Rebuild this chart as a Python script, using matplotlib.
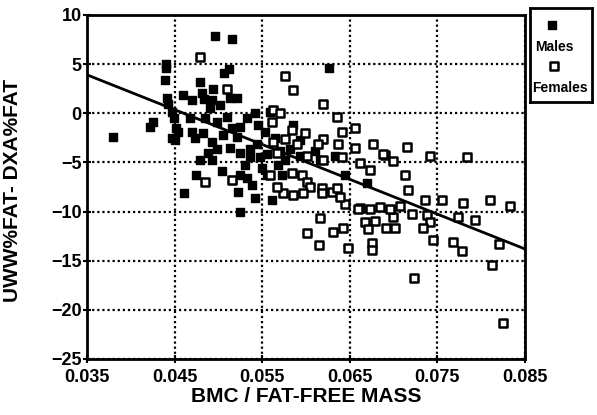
import numpy as np
from matplotlib import pyplot as plt

# BMC / fat-free mass vs. UWW%fat - DXA%fat
males_x = [0.0379, 0.0422, 0.0425, 0.0440, 0.0440, 0.0439, 0.0441, 0.0442, 0.0447, 0.0449,
           0.0452, 0.0447, 0.0450, 0.0454, 0.0460, 0.0470, 0.0479, 0.0481, 0.0483, 0.0493,
           0.0494, 0.0496, 0.0516, 0.0506, 0.0512, 0.0513, 0.0521, 0.0470, 0.0473, 0.0482,
           0.0493, 0.0498, 0.0513, 0.0521, 0.0525, 0.0533, 0.0510, 0.0498, 0.0525, 0.0536,
           0.0544, 0.0556, 0.0548, 0.0536, 0.0559, 0.0542, 0.0493, 0.0504, 0.0516, 0.0525,
           0.0533, 0.0538, 0.0522, 0.0542, 0.0556, 0.0461, 0.0525, 0.0561, 0.0485, 0.0490,
           0.0502, 0.0468, 0.0545, 0.0553, 0.0565, 0.0570, 0.0576, 0.0582, 0.0593, 0.0530,
           0.0550, 0.0568, 0.0626, 0.0593, 0.0610, 0.0616, 0.0633, 0.0573, 0.0585, 0.0516,
           0.0505, 0.0488, 0.0479, 0.0474, 0.0670, 0.0645]
males_y = [-2.4, -1.4, -0.9, 5.0, 4.6, 3.4, 1.5, 0.9, 0.1, -0.5,
           -1.5, -2.5, -2.7, -1.9, 1.9, 1.3, 3.2, 2.1, 1.4, 1.3,
           2.5, 7.9, 7.6, 4.1, 4.5, 1.6, 1.6, -1.9, -2.5, -2.0,
           -2.9, -3.6, -3.5, -2.4, -1.4, -0.5, -0.4, -0.9, -4.0, -3.6,
           -3.1, -4.1, -4.5, -4.5, 0.1, 0.0, -4.8, -5.9, -6.8, -6.3,
           -6.6, -7.3, -8.0, -8.6, -6.3, -8.1, -10.0, -8.8, -0.5, 0.5,
           0.8, -0.5, -1.2, -1.9, -2.5, -3.8, -4.8, -3.6, -4.3, -5.3,
           -5.6, -5.3, 4.6, -2.7, -3.8, -4.8, -4.3, -6.3, -1.2, -1.5,
           -2.2, -4.0, -4.8, -6.3, -7.1, -6.3]

females_x = [0.0479, 0.0510, 0.0485, 0.0562, 0.0576, 0.0585, 0.0619, 0.0635, 0.0641, 0.0561,
             0.0584, 0.0576, 0.0562, 0.0599, 0.0619, 0.0614, 0.0637, 0.0656, 0.0677, 0.0690,
             0.0715, 0.0742, 0.0784, 0.0688, 0.0699, 0.0713, 0.0717, 0.0736, 0.0810, 0.0707,
             0.0699, 0.0721, 0.0738, 0.0742, 0.0734, 0.0774, 0.0793, 0.0702, 0.0821, 0.0813,
             0.0724, 0.0825, 0.0768, 0.0778, 0.0745, 0.0833, 0.0755, 0.0779, 0.0645, 0.0662,
             0.0685, 0.0616, 0.0601, 0.0615, 0.0631, 0.0642, 0.0648, 0.0667, 0.0679, 0.0671,
             0.0675, 0.0675, 0.0692, 0.0567, 0.0601, 0.0641, 0.0662, 0.0673, 0.0619, 0.0559,
             0.0584, 0.0596, 0.0601, 0.0605, 0.0597, 0.0585, 0.0574, 0.0567, 0.0618, 0.0618,
             0.0630, 0.0635, 0.0639, 0.0659, 0.0673, 0.0696, 0.0570, 0.0516, 0.0590, 0.0656]
females_y = [5.7, 2.5, -7.0, 0.3, 3.8, 2.4, 0.9, -0.4, -1.9, -0.9,
             -1.7, -2.6, -2.9, -2.0, -2.6, -3.1, -3.1, -3.5, -3.1, -4.2,
             -3.4, -4.4, -4.5, -4.1, -4.9, -6.3, -7.8, -8.8, -8.8, -9.4,
             -10.6, -10.3, -10.4, -11.1, -11.7, -10.6, -10.9, -11.7, -13.3, -15.4,
             -16.8, -21.3, -13.1, -14.0, -12.9, -9.4, -8.8, -9.1, -9.2, -9.6,
             -9.5, -10.7, -12.2, -13.4, -12.1, -11.7, -13.7, -11.1, -11.0, -11.8,
             -13.2, -13.9, -11.7, -4.0, -4.3, -4.5, -5.1, -5.8, -4.8, -6.3,
             -6.1, -6.3, -7.0, -7.5, -8.1, -8.3, -8.1, -7.5, -7.6, -8.1,
             -8.0, -7.6, -8.5, -9.7, -9.7, -9.7, 0.0, -6.8, -3.1, -1.5]

fit_x = [0.035, 0.085]
fit_y = [3.9, -13.8]

x_ticks = [0.035, 0.045, 0.055, 0.065, 0.075, 0.085]
y_ticks = [10, 5, 0, -5, -10, -15, -20, -25]

plt.rcParams['font.family'] = ['Liberation Sans', 'DejaVu Sans']
plt.rcParams['font.weight'] = 'bold'

fig = plt.figure(figsize=(5.97, 4.15), dpi=100)
ax = fig.add_axes([0.146, 0.135, 0.733, 0.829])

ax.plot(fit_x, fit_y, color='black', linewidth=2, zorder=3)
ax.scatter(males_x, males_y, marker='s', s=26, color='black', zorder=4)
ax.scatter(females_x, females_y, marker='s', s=28, facecolor='white',
           edgecolor='black', linewidth=1.8, zorder=4)

ax.set_xlim(0.035, 0.085)
ax.set_ylim(-25, 10)
ax.set_xticks(x_ticks)
ax.set_xticklabels(['%.3f' % v for v in x_ticks])
ax.set_yticks(y_ticks)
ax.grid(color='black', linestyle=(0, (1, 1.3)), linewidth=1.6)
for s in ax.spines.values():
    s.set_linewidth(2)
ax.tick_params(direction='inout', length=6, width=1.5, labelsize=13)
ax.tick_params(axis='x', pad=4)
ax.tick_params(axis='y', pad=1)
for lab in ax.get_xticklabels() + ax.get_yticklabels():
    lab.set_fontweight('bold')

ax.set_xlabel('BMC / FAT-FREE MASS', fontsize=15, fontweight='bold', labelpad=1)
ax.set_ylabel('UWW%FAT- DXA%FAT', fontsize=15, fontweight='bold')
ax.yaxis.set_label_coords(-0.148, 0.49)

# legend box to the right of the plot
lax = fig.add_axes([0.888, 0.754, 0.104, 0.227])
lax.set_xlim(0, 1)
lax.set_ylim(0, 1)
lax.set_xticks([])
lax.set_yticks([])
for s in lax.spines.values():
    s.set_linewidth(2)
lax.scatter([0.36], [0.82], marker='s', s=26, color='black')
lax.text(0.08, 0.58, 'Males', fontsize=10, fontweight='bold', va='center')
lax.scatter([0.38], [0.38], marker='s', s=28, facecolor='white', edgecolor='black', linewidth=1.8)
lax.text(0.03, 0.15, 'Females', fontsize=10, fontweight='bold', va='center')

fig.savefig('out.png', dpi=100)
